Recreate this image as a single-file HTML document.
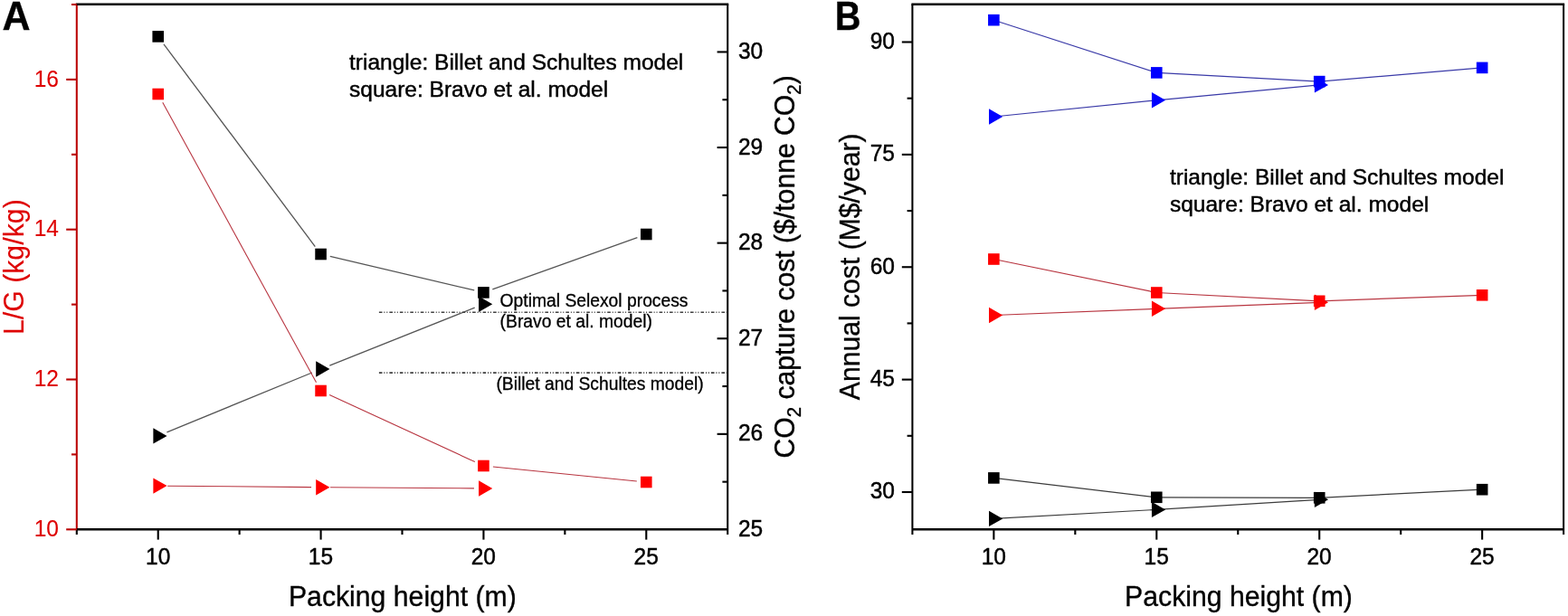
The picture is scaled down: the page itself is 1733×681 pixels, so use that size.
<!DOCTYPE html>
<html lang="en">
<head>
<meta charset="utf-8">
<title>Packing height figure</title>
<style>
html,body{margin:0;padding:0;background:#fff;}
body{width:1733px;height:681px;overflow:hidden;}
svg{display:block;font-family:"Liberation Sans", sans-serif;}
</style>
</head>
<body>
<svg width="1733" height="681" viewBox="0 0 1733 681" role="img" aria-label="Effect of packing height on L/G, CO2 capture cost and annual cost">
<rect x="0" y="0" width="1733" height="681" fill="#ffffff"/>
<line x1="181.01" y1="48.81" x2="348.29" y2="272.59" stroke="#555555" stroke-width="1.3" />
<line x1="364.79" y1="283.41" x2="524.21" y2="320.99" stroke="#555555" stroke-width="1.3" />
<line x1="544.31" y1="319.86" x2="704.39" y2="262.54" stroke="#555555" stroke-width="1.3" />
<line x1="184.44" y1="477.91" x2="344.86" y2="411.99" stroke="#555555" stroke-width="1.3" />
<line x1="364.33" y1="404.11" x2="524.67" y2="340.19" stroke="#555555" stroke-width="1.3" />
<line x1="179.77" y1="113.21" x2="349.53" y2="422.79" stroke="#b83540" stroke-width="1.1" />
<line x1="364.11" y1="436.40" x2="524.89" y2="510.60" stroke="#b83540" stroke-width="1.1" />
<line x1="544.87" y1="516.05" x2="703.83" y2="531.95" stroke="#b83540" stroke-width="1.1" />
<line x1="185.22" y1="537.19" x2="344.08" y2="538.61" stroke="#b83540" stroke-width="1.1" />
<line x1="365.07" y1="538.78" x2="523.93" y2="539.92" stroke="#b83540" stroke-width="1.1" />
<line x1="418.90" y1="345.20" x2="804.20" y2="345.20" stroke="#404040" stroke-width="1.65" stroke-dasharray="3.6 1.9 1.0 1.9 1.0 2.07"/>
<line x1="418.90" y1="412.10" x2="804.20" y2="412.10" stroke="#404040" stroke-width="1.65" stroke-dasharray="3.6 1.9 1.0 1.9 1.0 2.07"/>
<line x1="84.80" y1="4.80" x2="84.80" y2="585.30" stroke="#ba0000" stroke-width="2.05" />
<line x1="83.77" y1="4.80" x2="805.23" y2="4.80" stroke="#000" stroke-width="2.4" />
<line x1="804.20" y1="4.80" x2="804.20" y2="591.00" stroke="#000" stroke-width="2.05" />
<line x1="84.80" y1="585.30" x2="804.20" y2="585.30" stroke="#000" stroke-width="2.5" />
<line x1="84.80" y1="585.30" x2="84.80" y2="591.00" stroke="#000" stroke-width="2.1" />
<line x1="73.20" y1="585.30" x2="84.80" y2="585.30" stroke="#ba0000" stroke-width="2.1" />
<text transform="translate(65.00,592.90) scale(1.0,1.05)" font-size="24.5" fill="#de0000" stroke="#de0000" stroke-width="0.1" text-anchor="end" font-weight="normal" >10</text>
<line x1="73.20" y1="419.50" x2="84.80" y2="419.50" stroke="#ba0000" stroke-width="2.1" />
<text transform="translate(65.00,427.10) scale(1.0,1.05)" font-size="24.5" fill="#de0000" stroke="#de0000" stroke-width="0.1" text-anchor="end" font-weight="normal" >12</text>
<line x1="73.20" y1="253.70" x2="84.80" y2="253.70" stroke="#ba0000" stroke-width="2.1" />
<text transform="translate(65.00,261.30) scale(1.0,1.05)" font-size="24.5" fill="#de0000" stroke="#de0000" stroke-width="0.1" text-anchor="end" font-weight="normal" >14</text>
<line x1="73.20" y1="87.90" x2="84.80" y2="87.90" stroke="#ba0000" stroke-width="2.1" />
<text transform="translate(65.00,95.50) scale(1.0,1.05)" font-size="24.5" fill="#de0000" stroke="#de0000" stroke-width="0.1" text-anchor="end" font-weight="normal" >16</text>
<line x1="79.00" y1="502.40" x2="84.80" y2="502.40" stroke="#ba0000" stroke-width="2.1" />
<line x1="79.00" y1="336.60" x2="84.80" y2="336.60" stroke="#ba0000" stroke-width="2.1" />
<line x1="79.00" y1="170.80" x2="84.80" y2="170.80" stroke="#ba0000" stroke-width="2.1" />
<line x1="79.00" y1="5.00" x2="84.80" y2="5.00" stroke="#ba0000" stroke-width="2.1" />
<text transform="translate(816.00,593.05) scale(1.0,1.05)" font-size="24.5" fill="#000" stroke="#000" stroke-width="0.45" text-anchor="start" font-weight="normal" >25</text>
<line x1="792.60" y1="479.85" x2="804.20" y2="479.85" stroke="#000" stroke-width="2.1" />
<text transform="translate(816.00,487.45) scale(1.0,1.05)" font-size="24.5" fill="#000" stroke="#000" stroke-width="0.45" text-anchor="start" font-weight="normal" >26</text>
<line x1="792.60" y1="374.25" x2="804.20" y2="374.25" stroke="#000" stroke-width="2.1" />
<text transform="translate(816.00,381.85) scale(1.0,1.05)" font-size="24.5" fill="#000" stroke="#000" stroke-width="0.45" text-anchor="start" font-weight="normal" >27</text>
<line x1="792.60" y1="268.65" x2="804.20" y2="268.65" stroke="#000" stroke-width="2.1" />
<text transform="translate(816.00,276.25) scale(1.0,1.05)" font-size="24.5" fill="#000" stroke="#000" stroke-width="0.45" text-anchor="start" font-weight="normal" >28</text>
<line x1="792.60" y1="163.05" x2="804.20" y2="163.05" stroke="#000" stroke-width="2.1" />
<text transform="translate(816.00,170.65) scale(1.0,1.05)" font-size="24.5" fill="#000" stroke="#000" stroke-width="0.45" text-anchor="start" font-weight="normal" >29</text>
<line x1="792.60" y1="57.45" x2="804.20" y2="57.45" stroke="#000" stroke-width="2.1" />
<text transform="translate(816.00,65.05) scale(1.0,1.05)" font-size="24.5" fill="#000" stroke="#000" stroke-width="0.45" text-anchor="start" font-weight="normal" >30</text>
<line x1="798.40" y1="532.65" x2="804.20" y2="532.65" stroke="#000" stroke-width="2.1" />
<line x1="798.40" y1="427.05" x2="804.20" y2="427.05" stroke="#000" stroke-width="2.1" />
<line x1="798.40" y1="321.45" x2="804.20" y2="321.45" stroke="#000" stroke-width="2.1" />
<line x1="798.40" y1="215.85" x2="804.20" y2="215.85" stroke="#000" stroke-width="2.1" />
<line x1="798.40" y1="110.25" x2="804.20" y2="110.25" stroke="#000" stroke-width="2.1" />
<line x1="174.73" y1="585.30" x2="174.73" y2="596.60" stroke="#000" stroke-width="2.1" />
<text transform="translate(174.63,623.90) scale(1.0,1.02)" font-size="24.5" fill="#000" stroke="#000" stroke-width="0.45" text-anchor="middle" font-weight="normal" >10</text>
<line x1="354.58" y1="585.30" x2="354.58" y2="596.60" stroke="#000" stroke-width="2.1" />
<text transform="translate(354.48,623.90) scale(1.0,1.02)" font-size="24.5" fill="#000" stroke="#000" stroke-width="0.45" text-anchor="middle" font-weight="normal" >15</text>
<line x1="534.43" y1="585.30" x2="534.43" y2="596.60" stroke="#000" stroke-width="2.1" />
<text transform="translate(534.33,623.90) scale(1.0,1.02)" font-size="24.5" fill="#000" stroke="#000" stroke-width="0.45" text-anchor="middle" font-weight="normal" >20</text>
<line x1="714.28" y1="585.30" x2="714.28" y2="596.60" stroke="#000" stroke-width="2.1" />
<text transform="translate(714.18,623.90) scale(1.0,1.02)" font-size="24.5" fill="#000" stroke="#000" stroke-width="0.45" text-anchor="middle" font-weight="normal" >25</text>
<line x1="264.65" y1="585.30" x2="264.65" y2="591.00" stroke="#000" stroke-width="2.1" />
<line x1="444.50" y1="585.30" x2="444.50" y2="591.00" stroke="#000" stroke-width="2.1" />
<line x1="624.35" y1="585.30" x2="624.35" y2="591.00" stroke="#000" stroke-width="2.1" />
<rect x="168.43" y="34.10" width="12.6" height="12.6" fill="#000"/>
<rect x="348.28" y="274.70" width="12.6" height="12.6" fill="#000"/>
<rect x="528.13" y="317.10" width="12.6" height="12.6" fill="#000"/>
<rect x="707.98" y="252.70" width="12.6" height="12.6" fill="#000"/>
<polygon points="169.36,473.20 184.56,481.90 169.36,490.60" fill="#000"/>
<polygon points="349.21,399.30 364.41,408.00 349.21,416.70" fill="#000"/>
<polygon points="529.06,327.60 544.26,336.30 529.06,345.00" fill="#000"/>
<rect x="168.43" y="97.70" width="12.6" height="12.6" fill="#ff0000"/>
<rect x="348.28" y="425.70" width="12.6" height="12.6" fill="#ff0000"/>
<rect x="528.13" y="508.70" width="12.6" height="12.6" fill="#ff0000"/>
<rect x="707.98" y="526.70" width="12.6" height="12.6" fill="#ff0000"/>
<polygon points="169.36,528.40 184.56,537.10 169.36,545.80" fill="#ff0000"/>
<polygon points="349.21,530.00 364.41,538.70 349.21,547.40" fill="#ff0000"/>
<polygon points="529.06,531.30 544.26,540.00 529.06,548.70" fill="#ff0000"/>
<text transform="translate(2.60,33.00) scale(1.05,1.08)" font-size="41" fill="#000" stroke="#000" stroke-width="0.3" text-anchor="start" font-weight="bold" >A</text>
<text transform="translate(386.00,76.70) scale(1.0,1.0)" font-size="24.53" fill="#000" stroke="#000" stroke-width="0.45" text-anchor="start" font-weight="normal" >triangle: Billet and Schultes model</text>
<text transform="translate(386.00,106.70) scale(1.0,1.0)" font-size="24.53" fill="#000" stroke="#000" stroke-width="0.45" text-anchor="start" font-weight="normal" >square: Bravo et al. model</text>
<text transform="translate(552.60,338.95) scale(1.0,1.0)" font-size="19.3" fill="#000" stroke="#000" stroke-width="0.3" text-anchor="start" font-weight="normal" >Optimal Selexol process</text>
<text transform="translate(552.60,362.00) scale(1.0,1.0)" font-size="19.3" fill="#000" stroke="#000" stroke-width="0.3" text-anchor="start" font-weight="normal" >(Bravo et al. model)</text>
<text transform="translate(548.40,431.30) scale(1.0,1.0)" font-size="19.3" fill="#000" stroke="#000" stroke-width="0.3" text-anchor="start" font-weight="normal" >(Billet and Schultes model)</text>
<text transform="translate(444.85,670.00) scale(1.0,1.02)" font-size="30.2" fill="#000" stroke="#000" stroke-width="0.35" text-anchor="middle" font-weight="normal" >Packing height (m)</text>
<text transform="translate(25.5,295.2) rotate(-90) scale(1,1.035)" font-size="30.3" fill="#de0000" stroke="#de0000" stroke-width="0.1" text-anchor="middle">L/G (kg/kg)</text>
<text transform="translate(877.8,294.9) rotate(-90) scale(1,1.05)" font-size="30.15" fill="#000" stroke="#000" stroke-width="0.35" text-anchor="middle">CO<tspan font-size="20.5" dy="7.3">2</tspan><tspan dy="-7.3"> capture cost ($/tonne CO</tspan><tspan font-size="20.5" dy="7.3">2</tspan><tspan dy="-7.3">)</tspan></text>
<line x1="1098.36" y1="22.20" x2="1278.29" y2="80.40" stroke="#3a3aa8" stroke-width="1.2" />
<line x1="1278.29" y1="80.40" x2="1458.21" y2="90.10" stroke="#3a3aa8" stroke-width="1.2" />
<line x1="1458.21" y1="90.10" x2="1638.14" y2="74.90" stroke="#3a3aa8" stroke-width="1.2" />
<line x1="1098.36" y1="129.00" x2="1278.29" y2="110.80" stroke="#3a3aa8" stroke-width="1.2" />
<line x1="1278.29" y1="110.80" x2="1458.21" y2="93.90" stroke="#3a3aa8" stroke-width="1.2" />
<line x1="1098.36" y1="286.50" x2="1278.29" y2="323.50" stroke="#b83540" stroke-width="1.2" />
<line x1="1278.29" y1="323.50" x2="1458.21" y2="332.80" stroke="#b83540" stroke-width="1.2" />
<line x1="1458.21" y1="332.80" x2="1638.14" y2="326.30" stroke="#b83540" stroke-width="1.2" />
<line x1="1098.36" y1="348.50" x2="1278.29" y2="341.30" stroke="#b83540" stroke-width="1.2" />
<line x1="1278.29" y1="341.30" x2="1458.21" y2="334.30" stroke="#b83540" stroke-width="1.2" />
<line x1="1098.36" y1="528.40" x2="1278.29" y2="549.80" stroke="#3c3c3c" stroke-width="1.2" />
<line x1="1278.29" y1="549.80" x2="1458.21" y2="550.30" stroke="#3c3c3c" stroke-width="1.2" />
<line x1="1458.21" y1="550.30" x2="1638.14" y2="541.20" stroke="#3c3c3c" stroke-width="1.2" />
<line x1="1098.36" y1="573.40" x2="1278.29" y2="563.40" stroke="#3c3c3c" stroke-width="1.2" />
<line x1="1278.29" y1="563.40" x2="1458.21" y2="552.30" stroke="#3c3c3c" stroke-width="1.2" />
<line x1="1008.40" y1="4.80" x2="1008.40" y2="591.00" stroke="#000" stroke-width="2.05" />
<line x1="1007.38" y1="4.80" x2="1729.12" y2="4.80" stroke="#000" stroke-width="2.4" />
<line x1="1728.10" y1="4.80" x2="1728.10" y2="591.00" stroke="#000" stroke-width="2.05" />
<line x1="1008.40" y1="585.30" x2="1728.10" y2="585.30" stroke="#000" stroke-width="2.5" />
<line x1="996.80" y1="544.00" x2="1008.40" y2="544.00" stroke="#000" stroke-width="2.1" />
<text transform="translate(988.90,551.40) scale(1.0,1.05)" font-size="24.5" fill="#000" stroke="#000" stroke-width="0.45" text-anchor="end" font-weight="normal" >30</text>
<line x1="996.80" y1="419.62" x2="1008.40" y2="419.62" stroke="#000" stroke-width="2.1" />
<text transform="translate(988.90,427.02) scale(1.0,1.05)" font-size="24.5" fill="#000" stroke="#000" stroke-width="0.45" text-anchor="end" font-weight="normal" >45</text>
<line x1="996.80" y1="295.25" x2="1008.40" y2="295.25" stroke="#000" stroke-width="2.1" />
<text transform="translate(988.90,302.65) scale(1.0,1.05)" font-size="24.5" fill="#000" stroke="#000" stroke-width="0.45" text-anchor="end" font-weight="normal" >60</text>
<line x1="996.80" y1="170.88" x2="1008.40" y2="170.88" stroke="#000" stroke-width="2.1" />
<text transform="translate(988.90,178.28) scale(1.0,1.05)" font-size="24.5" fill="#000" stroke="#000" stroke-width="0.45" text-anchor="end" font-weight="normal" >75</text>
<line x1="996.80" y1="46.50" x2="1008.40" y2="46.50" stroke="#000" stroke-width="2.1" />
<text transform="translate(988.90,53.90) scale(1.0,1.05)" font-size="24.5" fill="#000" stroke="#000" stroke-width="0.45" text-anchor="end" font-weight="normal" >90</text>
<line x1="1002.60" y1="481.81" x2="1008.40" y2="481.81" stroke="#000" stroke-width="2.1" />
<line x1="1002.60" y1="357.44" x2="1008.40" y2="357.44" stroke="#000" stroke-width="2.1" />
<line x1="1002.60" y1="233.06" x2="1008.40" y2="233.06" stroke="#000" stroke-width="2.1" />
<line x1="1002.60" y1="108.69" x2="1008.40" y2="108.69" stroke="#000" stroke-width="2.1" />
<line x1="1098.36" y1="585.30" x2="1098.36" y2="596.60" stroke="#000" stroke-width="2.1" />
<text transform="translate(1098.26,623.90) scale(1.0,1.02)" font-size="24.5" fill="#000" stroke="#000" stroke-width="0.45" text-anchor="middle" font-weight="normal" >10</text>
<line x1="1278.29" y1="585.30" x2="1278.29" y2="596.60" stroke="#000" stroke-width="2.1" />
<text transform="translate(1278.19,623.90) scale(1.0,1.02)" font-size="24.5" fill="#000" stroke="#000" stroke-width="0.45" text-anchor="middle" font-weight="normal" >15</text>
<line x1="1458.21" y1="585.30" x2="1458.21" y2="596.60" stroke="#000" stroke-width="2.1" />
<text transform="translate(1458.11,623.90) scale(1.0,1.02)" font-size="24.5" fill="#000" stroke="#000" stroke-width="0.45" text-anchor="middle" font-weight="normal" >20</text>
<line x1="1638.14" y1="585.30" x2="1638.14" y2="596.60" stroke="#000" stroke-width="2.1" />
<text transform="translate(1638.04,623.90) scale(1.0,1.02)" font-size="24.5" fill="#000" stroke="#000" stroke-width="0.45" text-anchor="middle" font-weight="normal" >25</text>
<line x1="1188.33" y1="585.30" x2="1188.33" y2="591.00" stroke="#000" stroke-width="2.1" />
<line x1="1368.25" y1="585.30" x2="1368.25" y2="591.00" stroke="#000" stroke-width="2.1" />
<line x1="1548.17" y1="585.30" x2="1548.17" y2="591.00" stroke="#000" stroke-width="2.1" />
<rect x="1092.06" y="15.90" width="12.6" height="12.6" fill="#0000ff"/>
<rect x="1271.99" y="74.10" width="12.6" height="12.6" fill="#0000ff"/>
<rect x="1451.91" y="83.80" width="12.6" height="12.6" fill="#0000ff"/>
<rect x="1631.84" y="68.60" width="12.6" height="12.6" fill="#0000ff"/>
<polygon points="1093.00,120.30 1108.20,129.00 1093.00,137.70" fill="#0000ff"/>
<polygon points="1272.92,102.10 1288.12,110.80 1272.92,119.50" fill="#0000ff"/>
<polygon points="1452.85,85.20 1468.05,93.90 1452.85,102.60" fill="#0000ff"/>
<rect x="1092.06" y="280.20" width="12.6" height="12.6" fill="#ff0000"/>
<rect x="1271.99" y="317.20" width="12.6" height="12.6" fill="#ff0000"/>
<rect x="1451.91" y="326.50" width="12.6" height="12.6" fill="#ff0000"/>
<rect x="1631.84" y="320.00" width="12.6" height="12.6" fill="#ff0000"/>
<polygon points="1093.00,339.80 1108.20,348.50 1093.00,357.20" fill="#ff0000"/>
<polygon points="1272.92,332.60 1288.12,341.30 1272.92,350.00" fill="#ff0000"/>
<polygon points="1452.85,325.60 1468.05,334.30 1452.85,343.00" fill="#ff0000"/>
<rect x="1092.06" y="522.10" width="12.6" height="12.6" fill="#000"/>
<rect x="1271.99" y="543.50" width="12.6" height="12.6" fill="#000"/>
<rect x="1451.91" y="544.00" width="12.6" height="12.6" fill="#000"/>
<rect x="1631.84" y="534.90" width="12.6" height="12.6" fill="#000"/>
<polygon points="1093.00,564.70 1108.20,573.40 1093.00,582.10" fill="#000"/>
<polygon points="1272.92,554.70 1288.12,563.40 1272.92,572.10" fill="#000"/>
<polygon points="1452.85,543.60 1468.05,552.30 1452.85,561.00" fill="#000"/>
<text transform="translate(922.80,33.00) scale(0.97,1.075)" font-size="41" fill="#000" stroke="#000" stroke-width="0.3" text-anchor="start" font-weight="bold" >B</text>
<text transform="translate(1292.90,203.70) scale(1.0,1.0)" font-size="24.54" fill="#000" stroke="#000" stroke-width="0.45" text-anchor="start" font-weight="normal" >triangle: Billet and Schultes model</text>
<text transform="translate(1292.90,234.20) scale(1.0,1.0)" font-size="24.54" fill="#000" stroke="#000" stroke-width="0.45" text-anchor="start" font-weight="normal" >square: Bravo et al. model</text>
<text transform="translate(1369.00,670.00) scale(1.0,1.02)" font-size="30.2" fill="#000" stroke="#000" stroke-width="0.35" text-anchor="middle" font-weight="normal" >Packing height (m)</text>
<text transform="translate(949.5,294.8) rotate(-90) scale(1,1.035)" font-size="30.13" fill="#000" stroke="#000" stroke-width="0.3" text-anchor="middle">Annual cost (M$/year)</text>
</svg>
</body>
</html>
